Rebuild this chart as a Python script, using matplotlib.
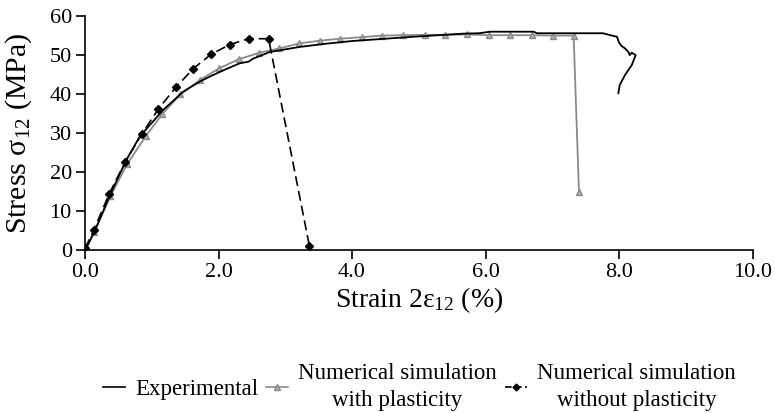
import matplotlib
matplotlib.use("Agg")
import matplotlib.pyplot as plt
from matplotlib.lines import Line2D

plt.rcParams['font.family'] = ['Liberation Serif', 'DejaVu Serif']
plt.rcParams['mathtext.fontset'] = 'custom'
plt.rcParams['mathtext.rm'] = 'Liberation Serif'
plt.rcParams['mathtext.it'] = 'Liberation Serif:italic'

# experimental curve
exp_x = [0, 0.05, 0.15, 0.38, 0.62, 0.82, 1.17, 1.47, 1.72, 1.92, 2.10, 2.32, 2.45,
         2.52, 2.77, 3.22, 3.60, 4.00, 4.42, 4.92, 5.30, 5.67, 5.90, 6.07, 6.72, 6.77,
         7.20, 7.76, 7.87, 7.97, 8.00, 8.04, 8.09, 8.14, 8.16, 8.19, 8.25, 8.19, 8.09,
         8.01, 7.99]
exp_y = [0, 1.5, 5.0, 14.3, 23.1, 29.1, 35.9, 40.6, 43.2, 44.9, 46.3, 47.9, 48.3,
         49.1, 50.8, 52.1, 52.9, 53.6, 54.1, 54.7, 55.1, 55.5, 55.6, 56.0, 56.0, 55.6,
         55.6, 55.6, 55.1, 54.7, 53.2, 52.3, 51.7, 50.8, 50.0, 50.6, 50.0, 47.4, 44.9,
         42.3, 40.2]

# numerical simulation with plasticity
pl_x = [0, 0.14, 0.38, 0.63, 0.91, 1.16, 1.43, 1.72, 2.01, 2.30, 2.61, 2.91, 3.21,
        3.52, 3.82, 4.15, 4.45, 4.77, 5.09, 5.40, 5.72, 6.05, 6.37, 6.69, 7.01, 7.32, 7.40]
pl_y = [0, 4.7, 13.7, 22.0, 29.2, 34.9, 39.9, 43.6, 46.6, 48.9, 50.6, 51.7, 53.0,
        53.7, 54.2, 54.6, 55.0, 55.1, 55.2, 55.2, 55.3, 55.1, 55.1, 55.1, 55.0, 55.0, 14.8]

# numerical simulation without plasticity
np_x = [0, 0.13, 0.36, 0.60, 0.85, 1.10, 1.36, 1.62, 1.89, 2.17, 2.45, 2.75, 3.36]
np_y = [0.4, 5.0, 14.3, 22.5, 29.7, 36.2, 41.7, 46.5, 50.2, 52.7, 54.2, 54.2, 1.1]

xticks = [0, 2, 4, 6, 8, 10]
xticklabels = ['0.0', '2.0', '4.0', '6.0', '8.0', '10.0']
yticks = [0, 10, 20, 30, 40, 50, 60]

fig = plt.figure(figsize=(7.75, 4.13), dpi=100)
ax = fig.add_axes([0.1097, 0.395, 0.8613, 0.566])

grey = '#8a8a8a'
ax.plot(exp_x, exp_y, color='black', lw=1.3, zorder=3)
ax.plot(pl_x, pl_y, color=grey, lw=1.3, marker='^', ms=5,
        mfc='#b0b0b0', mec=grey, zorder=2)
ax.plot(np_x, np_y, color='black', lw=1.2, ls=(0, (6, 3)), marker='D', ms=4,
        mfc='black', mec='black', zorder=4)

ax.set_xlim(0, 10)
ax.set_ylim(0, 60)
ax.set_xticks(xticks)
ax.set_xticklabels(xticklabels)
ax.set_yticks(yticks)
for s in ['top', 'right']:
    ax.spines[s].set_visible(False)
for s in ['left', 'bottom']:
    ax.spines[s].set_linewidth(1.2)
ax.tick_params(direction='out', length=6.5, width=1.2, labelsize=16, pad=3)

ax.set_xlabel('Strain 2ε$_{12}$ (%)', fontsize=20, labelpad=2)
ax.set_ylabel('Stress σ$_{12}$ (MPa)', fontsize=21.5, labelpad=11)

handles = [
    Line2D([], [], color='black', lw=1.2),
    Line2D([], [], color=grey, lw=1.2, marker='^', ms=4, mfc='#b0b0b0', mec=grey),
    Line2D([], [], color='black', lw=1.2, ls=(0, (4, 2)), marker='D', ms=3.5),
]
labels = ['Experimental', 'Numerical simulation\nwith plasticity',
          'Numerical simulation\nwithout plasticity']
leg = fig.legend(handles, labels, loc='center', bbox_to_anchor=(0.541, 0.063),
                 ncol=3, frameon=False, fontsize=16.5, handlelength=0.95,
                 handletextpad=0.45, columnspacing=0.35)
for t in leg.get_texts():
    t.set_multialignment('center')
    t.set_linespacing(1.4)

fig.savefig('out.png', dpi=100)
